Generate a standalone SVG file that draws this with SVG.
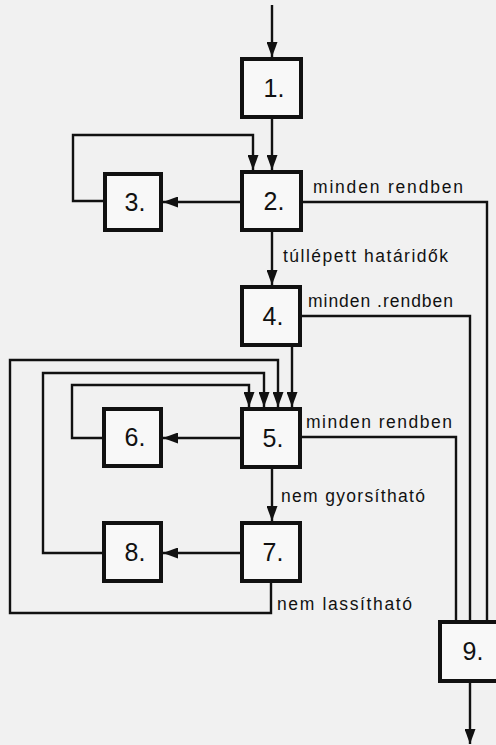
<svg xmlns="http://www.w3.org/2000/svg" width="496" height="745" viewBox="0 0 496 745">
  <style>
    .box { fill: #f8f8f8; stroke: #111; stroke-width: 4; }
    .num { font-family: "Liberation Sans", "DejaVu Sans", sans-serif; font-size: 25px; fill: #111; text-anchor: middle; }
    .lbl { font-family: "Liberation Sans", "DejaVu Sans", sans-serif; font-size: 17.5px; fill: #111; }
    .wire { fill: none; stroke: #111; stroke-width: 2.4; }
    .arr { marker-end: url(#ah); }
  </style>
  <defs>
    <marker id="ah" viewBox="0 0 15 11" refX="15" refY="5.5" markerWidth="15" markerHeight="11" markerUnits="userSpaceOnUse" orient="auto">
      <path d="M0,0 L15,5.5 L0,11 z" fill="#111"/>
    </marker>
  </defs>
  <rect x="0" y="0" width="496" height="745" fill="#f1f1f1"/>

  <g id="connectors">
    <path class="wire arr" d="M272,5 V57"/>
    <path class="wire arr" d="M272,119 V170"/>
    <path class="wire arr" d="M103,201 H73 V135 H253 V170"/>
    <path class="wire arr" d="M240,202 H163"/>
    <path class="wire" d="M303,202 H487 V620"/>
    <path class="wire arr" d="M272,232 V285"/>
    <path class="wire" d="M302,316 H470 V620"/>
    <path class="wire arr" d="M292,347 V407"/>
    <path class="wire arr" d="M102,438 H72 V385 H249 V407"/>
    <path class="wire arr" d="M240,438 H163"/>
    <path class="wire arr" d="M102,553 H43 V373 H264 V407"/>
    <path class="wire arr" d="M240,553 H163"/>
    <path class="wire arr" d="M272,469 V521"/>
    <path class="wire arr" d="M271,583 V613 H10 V360 H278 V407"/>
    <path class="wire" d="M302,437 H456 V620"/>
    <path class="wire arr" d="M470,683 V744"/>
  </g>

  <g id="labels">
    <text class="lbl" x="313" y="193" textLength="150" lengthAdjust="spacing">minden rendben</text>
    <text class="lbl" x="283" y="262" textLength="165" lengthAdjust="spacing">túllépett határidők</text>
    <text class="lbl" x="308" y="307" textLength="145" lengthAdjust="spacing">minden .rendben</text>
    <text class="lbl" x="306" y="428" textLength="146" lengthAdjust="spacing">minden rendben</text>
    <text class="lbl" x="281" y="502" textLength="144" lengthAdjust="spacing">nem gyorsítható</text>
    <text class="lbl" x="277" y="610" textLength="135" lengthAdjust="spacing">nem lassítható</text>
  </g>

  <g id="n1"><rect class="box" x="242" y="59" width="59" height="58"/><text class="num" x="274" y="97">1.</text></g>
  <g id="n2"><rect class="box" x="242" y="172" width="59" height="58"/><text class="num" x="274" y="210">2.</text></g>
  <g id="n3"><rect class="box" x="105" y="174" width="56" height="56"/><text class="num" x="135" y="211">3.</text></g>
  <g id="n4"><rect class="box" x="242" y="287" width="58" height="58"/><text class="num" x="273" y="325">4.</text></g>
  <g id="n5"><rect class="box" x="242" y="409" width="58" height="58"/><text class="num" x="273" y="447">5.</text></g>
  <g id="n6"><rect class="box" x="104" y="409" width="57" height="57"/><text class="num" x="135" y="446">6.</text></g>
  <g id="n7"><rect class="box" x="242" y="523" width="58" height="58"/><text class="num" x="273" y="561">7.</text></g>
  <g id="n8"><rect class="box" x="104" y="523" width="57" height="58"/><text class="num" x="135" y="561">8.</text></g>
  <g id="n9"><rect class="box" x="440" y="622" width="62" height="59"/><text class="num" x="473" y="660">9.</text></g>
</svg>
